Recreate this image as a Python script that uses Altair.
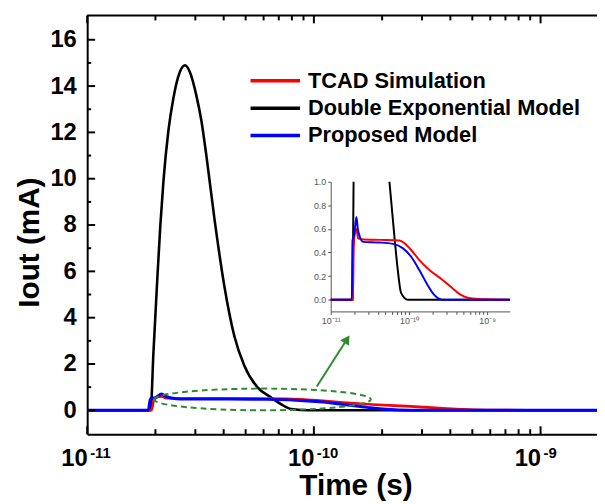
import altair as alt
import pandas as pd

FONT = "Liberation Sans"
SERIES = ["TCAD Simulation", "Double Exponential Model", "Proposed Model"]
COLORS = ["#ff0000", "#000000", "#0000ff"]

# ---- data (time in s, current in mA) ----
t_tcad = [1.0e-11, 1.92e-11, 1.97e-11, 2.05e-11, 2.13e-11, 2.24e-11, 2.5e-11, 4.2e-11, 7.53e-11,
          8.73e-11, 1.06e-10, 1.35e-10, 1.81e-10, 2.67e-10, 3.57e-10, 4.55e-10, 5.8e-10, 8.6e-10, 1.95e-9]
i_tcad = [0.0, 0.0, 0.45, 0.58, 0.60, 0.52, 0.513, 0.507, 0.501,
          0.479, 0.423, 0.338, 0.254, 0.169, 0.099, 0.042, 0.014, 0.003, 0.0]

t_dexp = [1.0e-11, 1.904e-11, 1.96e-11, 2.03e-11, 2.10e-11, 2.17e-11, 2.28e-11, 2.40e-11, 2.52e-11,
          2.70e-11, 2.84e-11, 3.03e-11, 3.19e-11, 3.35e-11, 3.65e-11, 4.03e-11, 4.46e-11, 4.93e-11,
          5.63e-11, 6.52e-11, 7.19e-11, 7.93e-11, 9.6e-11, 1.95e-9]
i_dexp = [0.0, 0.0, 2.5, 5.35, 7.92, 9.91, 12.05, 13.47, 14.4,
          14.9, 14.6, 13.6, 12.5, 11.05, 8.2, 5.35, 3.2, 1.94,
          1.0, 0.535, 0.254, 0.057, 0.0, 0.0]

t_prop = [1.0e-11, 1.86e-11, 1.9e-11, 2.0e-11, 2.13e-11, 2.22e-11, 2.35e-11, 2.59e-11, 4.2e-11,
          6.22e-11, 8.32e-11, 1.06e-10, 1.35e-10, 1.72e-10, 2.09e-10, 2.67e-10, 1.95e-9]
i_prop = [0.0, 0.0, 0.5, 0.55, 0.70, 0.60, 0.535, 0.49, 0.485,
          0.473, 0.437, 0.366, 0.254, 0.127, 0.042, 0.0, 0.0]

# axis ticks
x_major = [1e-11, 1e-10, 1e-9]
x_exponents = ["-11", "-10", "-9"]
x_exp_unicode = ["10⁻¹¹", "10⁻¹⁰", "10⁻⁹"]
x_minor = [2e-11, 3e-11, 4e-11, 5e-11, 6e-11, 7e-11, 8e-11, 9e-11,
           2e-10, 3e-10, 4e-10, 5e-10, 6e-10, 7e-10, 8e-10, 9e-10]
y_major = [0, 2, 4, 6, 8, 10, 12, 14, 16]
y_minor = [1, 3, 5, 7, 9, 11, 13, 15]
inset_y_ticks = [0.0, 0.2, 0.4, 0.6, 0.8, 1.0]
legend_rows = [0, 1, 2]

# annotations (data units)
ellipse_t = [5.93e-11]
ellipse_i = [0.47]
arrow_t0 = [1.03e-10]
arrow_i0 = [1.03]
arrow_t1 = [1.40e-10]
arrow_i1 = [3.07]

# ---- layout ----
W, H = 515, 423
GREEN = "#2e8b2e"
XS = alt.Scale(type="log", domain=[1e-11, 1.774e-9], nice=False)
YS = alt.Scale(domain=[-1.03, 17.05], nice=False, zero=False)

frames = []
for name, ts, vs in [(SERIES[0], t_tcad, i_tcad), (SERIES[1], t_dexp, i_dexp), (SERIES[2], t_prop, i_prop)]:
    frames.append(pd.DataFrame({"t": ts, "i": vs, "series": name}))
df = pd.concat(frames, ignore_index=True)

x_axis = alt.Axis(orient="bottom", values=x_major, labelExpr="'10'", labelAlign="right",
                  labelFontSize=24, labelFont=FONT, labelFontWeight="bold", labelColor="black",
                  labelBaseline="alphabetic", labelPadding=32, ticks=False, tickSize=0,
                  domainColor="black", domainWidth=2, grid=False, labelOverlap=False, labelFlush=False,
                  title="Time (s)", titleFontSize=30, titleFont=FONT, titleFontWeight="bold",
                  titleColor="black", titleX=271, titleY=61, titleAlign="center",
                  titleBaseline="alphabetic")
y_axis = alt.Axis(orient="left", values=y_major, format="d", labelFontSize=24, labelFont=FONT,
                  labelFontWeight="bold", labelColor="black", labelPadding=11, ticks=False, tickSize=0,
                  domainColor="black", domainWidth=2, grid=False, labelOverlap=False,
                  title="Iout (mA)", titleFontSize=30, titleFont=FONT, titleFontWeight="bold",
                  titleColor="black", titleX=-58, titleY=229, titleAngle=270, titleAlign="center",
                  titleBaseline="middle")

color = alt.Color("series:N", scale=alt.Scale(domain=SERIES, range=COLORS), legend=None)

X = alt.X("t:Q", scale=XS, axis=x_axis)
Y = alt.Y("i:Q", scale=YS, axis=y_axis)

base = alt.Chart(df)
widths = {SERIES[0]: 2.6, SERIES[1]: 2.6, SERIES[2]: 3.0}
main_lines = [
    base.transform_filter(alt.datum.series == s).mark_line(
        clip=True, strokeWidth=widths[s], interpolate="monotone").encode(x=X, y=Y, color=color)
    for s in [SERIES[1], SERIES[0], SERIES[2]]
]

ell = alt.Chart(pd.DataFrame({"t": ellipse_t, "i": ellipse_i})).mark_point(
    shape="M -1 0 A 1 0.1 0 1 1 1 0 A 1 0.1 0 1 1 -1 0 Z", size=219 * 219, filled=False,
    color=GREEN, strokeWidth=2, strokeDash=[6, 4], opacity=1).encode(x=X, y=Y)

arrow_df = pd.DataFrame({"t": arrow_t0, "i": arrow_i0, "t2": arrow_t1, "i2": arrow_i1})
arrow_line = alt.Chart(arrow_df).mark_rule(color=GREEN, strokeWidth=2).encode(
    x=X, y=Y, x2="t2:Q", y2="i2:Q")
arrow_head = alt.Chart(arrow_df).mark_point(shape="triangle-up", size=110, filled=True,
                                            color=GREEN, opacity=1, angle=33).encode(
    x=alt.X("t2:Q", scale=XS, axis=x_axis), y=alt.Y("i2:Q", scale=YS, axis=y_axis))

xt_major = alt.Chart(pd.DataFrame({"t": x_major}))
xt_minor = alt.Chart(pd.DataFrame({"t": x_minor}))
yt_major = alt.Chart(pd.DataFrame({"i": y_major}))
yt_minor = alt.Chart(pd.DataFrame({"i": y_minor}))
tick_layers = [
    xt_major.mark_rule(color="black", strokeWidth=2).encode(x=X, y=alt.value(H), y2=alt.value(H - 8)),
    xt_minor.mark_rule(color="black", strokeWidth=2).encode(x=X, y=alt.value(H), y2=alt.value(H - 5)),
    xt_major.mark_rule(color="black", strokeWidth=2).encode(x=X, y=alt.value(0), y2=alt.value(8)),
    xt_minor.mark_rule(color="black", strokeWidth=2).encode(x=X, y=alt.value(0), y2=alt.value(5)),
    yt_major.mark_rule(color="black", strokeWidth=2).encode(y=Y, x=alt.value(0), x2=alt.value(8)),
    yt_minor.mark_rule(color="black", strokeWidth=2).encode(y=Y, x=alt.value(0), x2=alt.value(4)),
    alt.Chart(pd.DataFrame({"t": [x_major[0]]})).mark_rule(color="black", strokeWidth=2).encode(
        x=alt.value(0), x2=alt.value(W), y=alt.value(0)),
]

exps = alt.Chart(pd.DataFrame({"t": x_major, "e": x_exponents})).mark_text(
    align="left", baseline="alphabetic", dx=3, fontSize=15, font=FONT, fontWeight="bold",
    color="black").encode(x=X, y=alt.value(447), text="e:N")

main = alt.layer(*main_lines, ell, arrow_line, arrow_head, *tick_layers, exps)

# ---- inset (same curves, zoomed) ----
def inset_rows(ts, vs, name, ymax=1.0):
    rows, seg, above = [], 0, False
    for k, (t, v) in enumerate(zip(ts, vs)):
        if v <= ymax:
            if above:
                seg += 1
            rows.append({"t": t, "i": v, "series": name, "seg": seg})
            above = False
        else:
            if not above and k > 0:
                rows.append({"t": t, "i": ymax, "series": name, "seg": seg})
            above = True
    return rows

inset_df = pd.DataFrame(inset_rows(t_dexp, i_dexp, SERIES[1]) + inset_rows(t_tcad, i_tcad, SERIES[0])
                        + inset_rows(t_prop, i_prop, SERIES[2]))

XSI = alt.Scale(type="log", domain=[1e-11, 1.95e-9], range=[246, 427], nice=False)
YSI = alt.Scale(domain=[-0.1, 1.0], range=[299, 168], nice=False, zero=False)
lab_expr = " : ".join(
    f"abs(log(datum.value)/LN10 - ({int(e)})) < 0.01 ? '{u}'" for e, u in zip(x_exponents, x_exp_unicode)
) + " : ''"
xi_axis = alt.Axis(orient="bottom", offset=-(H - 299), values=x_major + x_minor, labelExpr=lab_expr,
                   labelFontSize=9, labelFont=FONT, labelColor="#555555", labelPadding=2,
                   tickSize=3, tickColor="#555555", domainColor="#555555", domainWidth=1,
                   grid=False, title=None, labelOverlap=False, labelFlush=False)
yi_axis = alt.Axis(orient="left", offset=-246, values=inset_y_ticks, format=".1f", labelFontSize=9,
                   labelFont=FONT, labelColor="#555555", labelPadding=2, tickSize=3,
                   tickColor="#555555", domainColor="#555555", domainWidth=1, grid=False,
                   title=None, labelOverlap=False)
XI = alt.X("t:Q", scale=XSI, axis=xi_axis)
YI = alt.Y("i:Q", scale=YSI, axis=yi_axis)
ibase = alt.Chart(inset_df)
inset_lines = [
    ibase.transform_filter(alt.datum.series == s).mark_line(
        color=c, strokeWidth=2.0, interpolate="monotone").encode(x=XI, y=YI, detail="seg:N")
    for s, c in [(SERIES[1], COLORS[1]), (SERIES[0], COLORS[0]), (SERIES[2], COLORS[2])]
]
inset = alt.layer(*inset_lines)

# ---- legend (drawn as its own small group) ----
leg_df = pd.DataFrame({"series": SERIES, "row": legend_rows})
LY = alt.Y("row:Q", scale=alt.Scale(domain=[0, 2], range=[66, 121.3], nice=False, zero=False), axis=None)
leg_lines = alt.Chart(leg_df).mark_rule(strokeWidth=3.5).encode(
    x=alt.value(165), x2=alt.value(215), y=LY, color=color)
leg_text = alt.Chart(leg_df).mark_text(align="left", baseline="middle", font=FONT, fontWeight="bold",
                                       fontSize=22, color="black").encode(
    x=alt.value(223), y=LY, text="series:N")
legend_group = alt.layer(leg_lines, leg_text)

chart = alt.layer(main, inset, legend_group).resolve_scale(x="independent", y="independent").properties(
    width=W, height=H, padding={"left": 80, "top": 5, "right": 0, "bottom": 66},
    autosize=alt.AutoSizeParams(type="none"),
).configure_view(stroke=None)

chart.save("out.html", embed_options={"renderer": "svg", "actions": False})
